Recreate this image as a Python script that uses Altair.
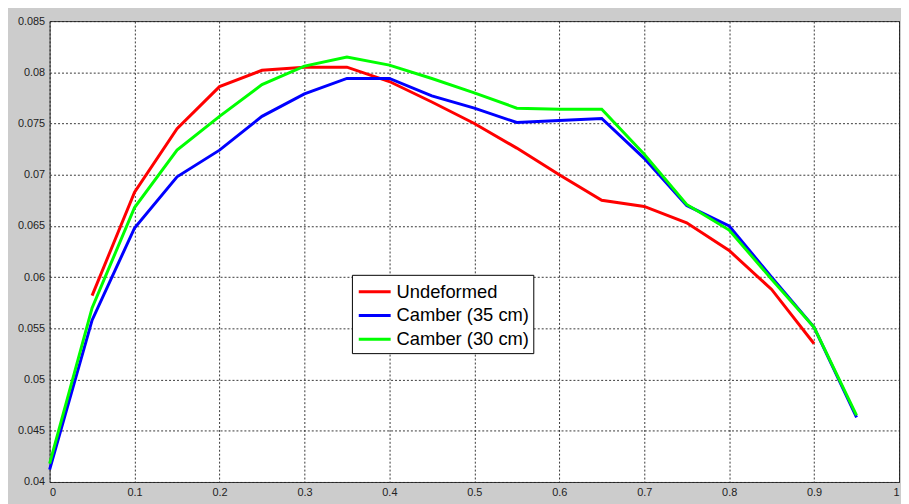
import altair as alt
import pandas as pd

series_names = ["Undeformed", "Camber (35 cm)", "Camber (30 cm)"]
series_colors = ["#ff0000", "#0000ff", "#00ff00"]

x_red = [0.05, 0.1, 0.15, 0.2, 0.25, 0.3, 0.35, 0.4, 0.45, 0.5, 0.55, 0.6, 0.65, 0.7, 0.75, 0.8, 0.85, 0.9]
y_red = [0.0582, 0.0683, 0.0745, 0.0786, 0.0802, 0.0805, 0.0805, 0.0791, 0.0771, 0.0750, 0.0726, 0.0700, 0.0675, 0.0669, 0.0653, 0.0626, 0.0588, 0.0535]

x_cam = [0.0, 0.05, 0.1, 0.15, 0.2, 0.25, 0.3, 0.35, 0.4, 0.45, 0.5, 0.55, 0.6, 0.65, 0.7, 0.75, 0.8, 0.85, 0.9, 0.95]
y_blue = [0.0412, 0.0558, 0.0648, 0.0698, 0.0724, 0.0757, 0.0779, 0.0794, 0.0794, 0.0777, 0.0765, 0.0751, 0.0753, 0.0755, 0.0716, 0.0670, 0.0650, 0.0600, 0.0551, 0.0463]
y_green = [0.0418, 0.0570, 0.0668, 0.0724, 0.0757, 0.0788, 0.0806, 0.0815, 0.0807, 0.0794, 0.0780, 0.0765, 0.0764, 0.0764, 0.0720, 0.0671, 0.0646, 0.0598, 0.0551, 0.0465]

x_ticks = [0, 0.1, 0.2, 0.3, 0.4, 0.5, 0.6, 0.7, 0.8, 0.9, 1.0]
y_ticks = [0.04, 0.045, 0.05, 0.055, 0.06, 0.065, 0.07, 0.075, 0.08, 0.085]

rows = []
for i, (xs, ys) in enumerate([(x_red, y_red), (x_cam, y_blue), (x_cam, y_green)]):
    for x, y in zip(xs, ys):
        rows.append({"x": x, "y": y, "series": series_names[i], "order": i})
df = pd.DataFrame(rows)

axis_common = dict(
    grid=True,
    gridColor="#222222",
    gridDash=[2, 2],
    gridWidth=1,
    gridOpacity=0.9,
    ticks=False,
    domain=False,
    labelFont="Liberation Sans",
    labelFontSize=11,
    labelColor="#222222",
    title=None,
)

chart = alt.Chart(df).mark_line(strokeWidth=3).encode(
    x=alt.X("x:Q", scale=alt.Scale(domain=[0, 1], nice=False, zero=False),
            axis=alt.Axis(values=x_ticks, labelExpr="format(datum.value, '~g')",
                          labelPadding=5, **axis_common)),
    y=alt.Y("y:Q", scale=alt.Scale(domain=[0.04, 0.085], nice=False, zero=False),
            axis=alt.Axis(values=y_ticks, labelExpr="format(datum.value, '~g')",
                          labelPadding=5, **axis_common)),
    color=alt.Color("series:N",
                    scale=alt.Scale(domain=series_names, range=series_colors),
                    sort=series_names,
                    legend=alt.Legend(
                        title=None, orient="none", legendX=305, legendY=256,
                        symbolType="M-1.4,0H1.4", symbolSize=529, symbolStrokeWidth=3,
                        symbolFillColor="transparent",
                        labelFont="Liberation Sans", labelFontSize=18.5, labelColor="#000000",
                        fillColor="#ffffff", strokeColor="#000000", padding=4,
                        rowPadding=1, symbolOffset=6, labelOffset=9, labelLimit=300)),
    detail="series:N",
    order="order:Q",
).properties(
    width=857, height=465,
    padding={"left": 42, "top": 11, "right": 2, "bottom": 20},
    autosize=alt.AutoSizeParams(type="none"),
).configure(
    background="#cccccc",
).configure_view(
    fill="#ffffff", stroke="#333333", strokeWidth=1,
)

chart.save("out.html", embed_options={"renderer": "svg", "actions": False})
